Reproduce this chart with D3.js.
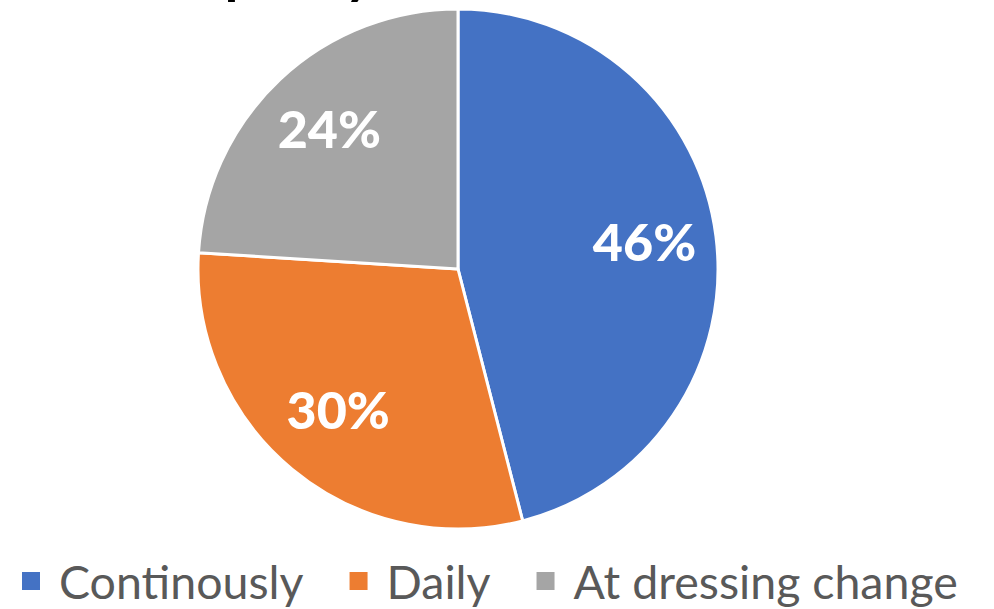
<!DOCTYPE html>
<html>
<head>
<meta charset="utf-8">
<script src="https://cdn.jsdelivr.net/npm/d3@7"></script>
<style>
  body { margin: 0; background: #fff; }
  svg { display: block; }
</style>
</head>
<body>
<div id="chart"></div>
<script>
// data
const categories = ["Continously", "Daily", "At dressing change"];
const values = [46, 30, 24];
const colors = ["#4472C4", "#ED7D31", "#A5A5A5"];
const titleText = "Frequency";

const W = 994, H = 609;
const cx = 458, cy = 269, R = 260;

const svg = d3.select("#chart").append("svg")
    .attr("width", W).attr("height", H);

// title sits above the top edge, only the descender shows
svg.append("text")
    .attr("x", 372).attr("y", -6)
    .attr("text-anchor", "end")
    .attr("font-family", "Lato, sans-serif")
    .attr("font-weight", 900)
    .attr("font-size", 50)
    .attr("fill", "#000")
    .text(titleText);

const pie = d3.pie().sort(null).value(d => d)(values);
const arc = d3.arc().innerRadius(0).outerRadius(R);
const labelArc = d3.arc().innerRadius(188).outerRadius(188);

const g = svg.append("g").attr("transform", "translate(" + cx + "," + cy + ")");

g.selectAll("path.slice")
    .data(pie)
    .enter().append("path")
    .attr("class", "slice")
    .attr("d", arc)
    .attr("fill", (d, i) => colors[i])
    .attr("stroke", "#fff")
    .attr("stroke-width", 3)
    .attr("stroke-linejoin", "round");

g.selectAll("text.lbl")
    .data(pie)
    .enter().append("text")
    .attr("class", "lbl")
    .attr("transform", d => "translate(" + labelArc.centroid(d) + ")")
    .attr("text-anchor", "middle")
    .attr("dy", "0.3em")
    .attr("font-family", "Lato, sans-serif")
    .attr("font-weight", 900)
    .attr("font-size", 52)
    .attr("fill", "#fff")
    .text(d => d.value + "%");

// legend
const legend = svg.append("g");
let lx = 22;
categories.forEach((c, i) => {
    legend.append("rect")
        .attr("x", lx).attr("y", 572)
        .attr("width", 18).attr("height", 18)
        .attr("fill", colors[i]);
    const t = legend.append("text")
        .attr("x", lx + 37).attr("y", 599)
        .attr("font-family", "Lato, sans-serif")
        .attr("font-size", 46.5)
        .attr("fill", "#595959")
        .text(c);
    lx += 37 + t.node().getComputedTextLength() + 46;
});
</script>
</body>
</html>
